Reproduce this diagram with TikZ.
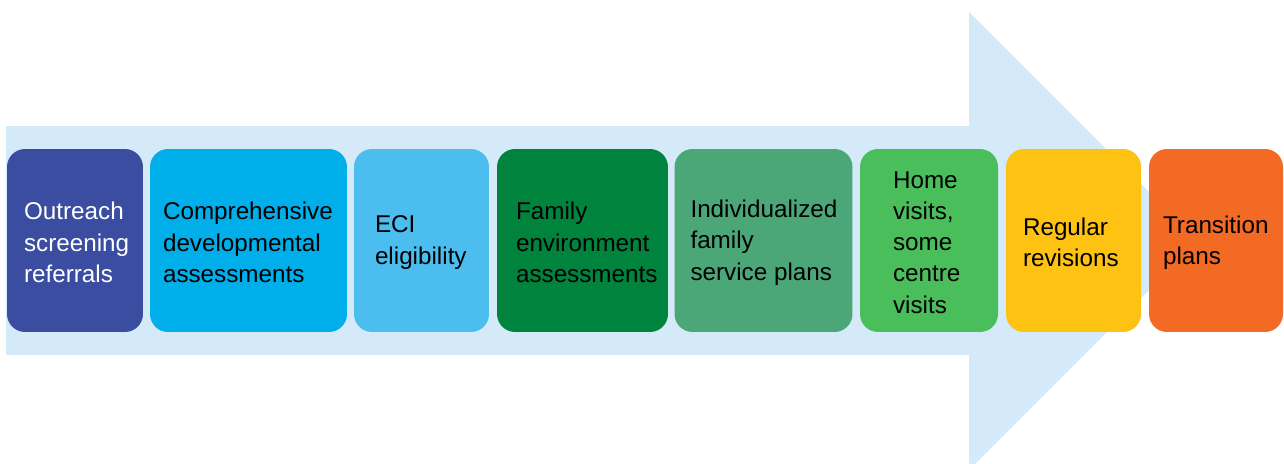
\documentclass[tikz,border=0pt]{standalone}
\usepackage{fontspec}
\setmainfont{Liberation Sans}
\usepackage{tikz}
\usetikzlibrary{calc}
\definecolor{arrowbg}{HTML}{D4EAF8}
\definecolor{outreach}{HTML}{3A4DA0}
\definecolor{compdev}{HTML}{00AEEA}
\definecolor{eci}{HTML}{4BBDEE}
\definecolor{famenv}{HTML}{00843D}
\definecolor{ifsp}{HTML}{4BA777}
\definecolor{homevis}{HTML}{4BBE5C}
\definecolor{regrev}{HTML}{FDC212}
\definecolor{transpl}{HTML}{F26A24}
\tikzset{
  stagebox/.style={rounded corners=0.36cm, minimum height=3.66cm, inner sep=0pt},
  stagetext/.style={anchor=west, align=left, inner sep=0pt, font=\fontsize{13.8pt}{17.8pt}\selectfont}
}

\begin{document}
\begin{tikzpicture}[x=0.02cm, y=-0.02cm]
    \useasboundingbox (0, 0) rectangle (1284, 463);
    \clip (0, 0) rectangle (1284, 463);
    % big arrow behind the stages
    \fill[arrowbg] (6, 126) -- (969, 126) -- (969, 12) -- (1198, 241) -- (969, 470) -- (969, 355) -- (6, 355) -- cycle;
    % stages
    \node[stagebox, fill=outreach, minimum width=2.72cm] (b1) at (75, 240.5) {};
    \node[stagebox, fill=compdev, minimum width=3.94cm] (b2) at (248.5, 240.5) {};
    \node[stagebox, fill=eci, minimum width=2.70cm] (b3) at (421.5, 240.5) {};
    \node[stagebox, fill=famenv, minimum width=3.42cm] (b4) at (582.5, 240.5) {};
    \node[stagebox, fill=ifsp, minimum width=3.56cm] (b5) at (763.5, 240.5) {};
    \node[stagebox, fill=homevis, minimum width=2.76cm] (b6) at (929, 240.5) {};
    \node[stagebox, fill=regrev, minimum width=2.70cm] (b7) at (1073.5, 240.5) {};
    \node[stagebox, fill=transpl, minimum width=2.68cm] (b8) at (1216, 240.5) {};
    % labels
    \node[stagetext, text=white] (t1) at ($(b1.west)+(17, 2)$) {Outreach\\screening\\referrals};
    \node[stagetext] (t2) at ($(b2.west)+(13, 2)$) {Comprehensive\\developmental\\assessments};
    \node[stagetext] (t3) at ($(b3.west)+(21, 2)$) {ECI\\eligibility};
    \node[stagetext] (t4) at ($(b4.west)+(19, 2)$) {Family\\environment\\assessments};
    \node[stagetext] (t5) at ($(b5.west)+(16, 2)$) {Individualized\\family\\service plans};
    \node[stagetext] (t6) at ($(b6.west)+(33, 2)$) {Home\\visits,\\some\\centre\\visits};
    \node[stagetext] (t7) at ($(b7.west)+(17, 2)$) {Regular\\revisions};
    \node[stagetext] (t8) at ($(b8.west)+(14, 2)$) {Transition\\plans};
\end{tikzpicture}
\end{document}
